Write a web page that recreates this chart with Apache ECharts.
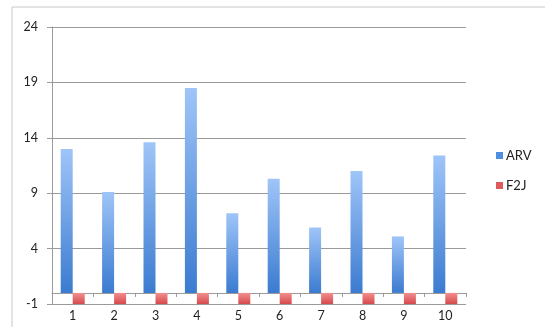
<!DOCTYPE html>
<html>
<head>
<meta charset="utf-8">
<script src="https://cdn.jsdelivr.net/npm/echarts@6/dist/echarts.min.js"></script>
<style>
  html, body { margin: 0; padding: 0; background: #fff; }
  #chart { width: 545px; height: 327px; }
</style>
</head>
<body>
<div id="chart"></div>
<script>
const categories = ['1', '2', '3', '4', '5', '6', '7', '8', '9', '10'];
const arvValues = [13.0, 9.1, 13.6, 18.5, 7.2, 10.3, 5.9, 11.0, 5.1, 12.4];
const f2jValues = [-1, -1, -1, -1, -1, -1, -1, -1, -1, -1];
const yTicks = [-1, 4, 9, 14, 19, 24];

(function(){
  const chart = echarts.init(document.getElementById('chart'));
  const font = 'Lato, "Liberation Sans", sans-serif';

  const blue = new echarts.graphic.LinearGradient(0, 0, 0, 1, [
    { offset: 0, color: '#9fc5f8' },
    { offset: 1, color: '#3b7bd0' }
  ]);
  const red = new echarts.graphic.LinearGradient(0, 0, 0, 1, [
    { offset: 0, color: '#f28f8f' },
    { offset: 1, color: '#d64a4c' }
  ]);

  chart.setOption({
    animation: false,
    textStyle: { fontFamily: font },
    graphic: [{
      type: 'rect',
      shape: { x: 12, y: 7, width: 560, height: 340 },
      style: { fill: 'none', stroke: '#c8c8c8', lineWidth: 1 },
      silent: true,
      z: -10
    }],
    legend: {
      orient: 'vertical',
      left: 491,
      top: 144,
      itemWidth: 7,
      itemHeight: 7,
      itemGap: 17,
      icon: 'rect',
      textStyle: { fontSize: 13, color: '#222', padding: [0, 0, 0, -2] },
      data: [
        { name: 'ARV', itemStyle: { color: '#4d8ee0' } },
        { name: 'F2J', itemStyle: { color: '#e05a5c' } }
      ]
    },
    grid: { left: 52, right: 79, top: 27, bottom: 23 },
    xAxis: [
      {
        type: 'category',
        data: categories,
        axisLine: { onZero: true, lineStyle: { color: '#9a9a9a' } },
        axisTick: { show: true, length: 4, lineStyle: { color: '#9a9a9a' } },
        axisLabel: { show: false }
      },
      {
        type: 'category',
        data: categories,
        position: 'bottom',
        axisLine: { show: false },
        axisTick: { show: false },
        axisLabel: { color: '#222', fontSize: 12.5, margin: 5 }
      }
    ],
    yAxis: {
      type: 'value',
      min: -1,
      max: 24,
      interval: 5,
      axisLine: { show: true, lineStyle: { color: '#9a9a9a' } },
      axisTick: { show: true, length: 5, lineStyle: { color: '#9a9a9a' } },
      axisLabel: {
        color: '#222',
        fontSize: 12.5,
        margin: 14,
        formatter: v => yTicks.includes(v) ? String(v) : ''
      },
      splitLine: { lineStyle: { color: '#9a9a9a' } }
    },
    series: [
      {
        name: 'ARV',
        type: 'bar',
        data: arvValues,
        barWidth: 12,
        barGap: '0%',
        itemStyle: { color: blue }
      },
      {
        name: 'F2J',
        type: 'bar',
        data: f2jValues,
        barWidth: 12,
        barGap: '0%',
        itemStyle: { color: red }
      }
    ]
  });
})();
</script>
</body>
</html>
